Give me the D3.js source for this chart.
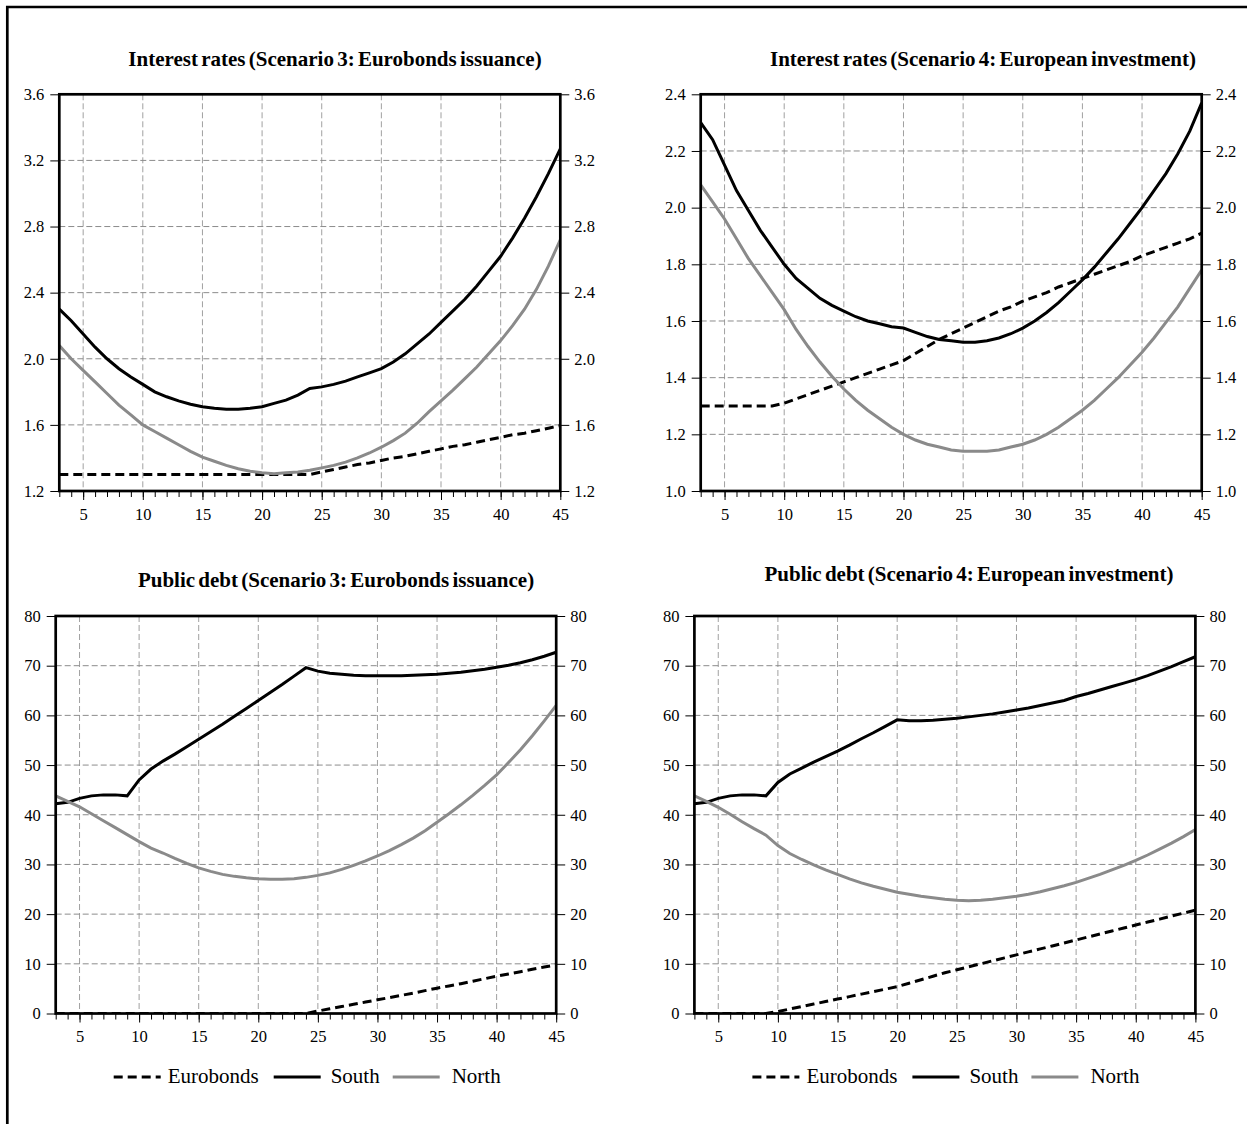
<!DOCTYPE html>
<html>
<head>
<meta charset="utf-8">
<script src="https://cdn.jsdelivr.net/npm/d3@7"></script>
<style>
body { margin: 0; background: #fff; }
svg, svg text { font-family: "Liberation Serif", "Times New Roman", serif; }
</style>
</head>
<body>
<script>
// horizon (periods) on the x axis
var years = [3,4,5,6,7,8,9,10,11,12,13,14,15,16,17,18,19,20,21,22,23,24,25,26,27,28,29,30,31,32,33,34,35,36,37,38,39,40,41,42,43,44,45];
var xTicks = [5,10,15,20,25,30,35,40,45];

// Interest rates, scenario 3
var ir3South = [2.30,2.23,2.15,2.07,2.00,1.94,1.89,1.845,1.80,1.77,1.745,1.725,1.71,1.70,1.695,1.695,1.70,1.71,1.73,1.75,1.78,1.82,1.83,1.845,1.865,1.89,1.915,1.94,1.98,2.03,2.09,2.15,2.22,2.29,2.36,2.44,2.53,2.62,2.73,2.85,2.98,3.12,3.27];
var ir3North = [2.08,2.00,1.93,1.86,1.79,1.72,1.66,1.60,1.56,1.52,1.48,1.44,1.405,1.38,1.355,1.335,1.32,1.31,1.305,1.31,1.315,1.325,1.34,1.355,1.375,1.40,1.43,1.465,1.505,1.55,1.61,1.68,1.745,1.81,1.88,1.95,2.03,2.11,2.20,2.30,2.42,2.56,2.72];
var ir3Euro  = [1.30,1.30,1.30,1.30,1.30,1.30,1.30,1.30,1.30,1.30,1.30,1.30,1.30,1.30,1.30,1.30,1.30,1.30,1.30,1.30,1.30,1.30,1.315,1.33,1.345,1.36,1.37,1.385,1.40,1.41,1.425,1.44,1.455,1.47,1.48,1.495,1.51,1.525,1.54,1.55,1.565,1.58,1.595];

// Interest rates, scenario 4
var ir4South = [2.30,2.24,2.15,2.06,1.99,1.92,1.86,1.80,1.75,1.715,1.68,1.655,1.635,1.615,1.60,1.59,1.58,1.575,1.56,1.545,1.535,1.53,1.525,1.525,1.53,1.54,1.555,1.575,1.60,1.63,1.665,1.705,1.745,1.79,1.84,1.89,1.945,2.00,2.06,2.12,2.19,2.27,2.37];
var ir4North = [2.08,2.02,1.96,1.89,1.82,1.76,1.70,1.64,1.57,1.51,1.455,1.405,1.36,1.32,1.285,1.255,1.225,1.20,1.18,1.165,1.155,1.145,1.14,1.14,1.14,1.145,1.155,1.165,1.18,1.20,1.225,1.255,1.285,1.32,1.36,1.40,1.445,1.49,1.54,1.595,1.65,1.715,1.78];
var ir4Euro  = [1.30,1.30,1.30,1.30,1.30,1.30,1.30,1.31,1.325,1.34,1.355,1.37,1.385,1.40,1.415,1.43,1.445,1.46,1.485,1.51,1.535,1.555,1.575,1.595,1.615,1.635,1.65,1.67,1.685,1.70,1.72,1.735,1.75,1.765,1.78,1.795,1.81,1.83,1.845,1.86,1.875,1.89,1.91];

// Public debt, scenario 3
var debt3South = [42.2,42.5,43.3,43.8,44.0,44.0,43.8,47.0,49.2,50.8,52.2,53.7,55.2,56.7,58.2,59.8,61.4,63.0,64.6,66.2,67.9,69.6,68.9,68.5,68.3,68.1,68.0,68.0,68.0,68.0,68.1,68.2,68.3,68.5,68.7,69.0,69.3,69.7,70.1,70.6,71.2,71.9,72.7];
var debt3North = [43.8,42.7,41.6,40.2,38.8,37.4,36.0,34.6,33.3,32.3,31.2,30.2,29.3,28.6,28.0,27.6,27.3,27.1,27.0,27.0,27.1,27.4,27.8,28.3,29.0,29.8,30.7,31.7,32.8,34.0,35.3,36.8,38.5,40.2,42.0,43.9,45.9,48.0,50.5,53.1,55.9,58.9,62.0];
var debt3Euro  = [0,0,0,0,0,0,0,0,0,0,0,0,0,0,0,0,0,0,0,0,0,0,0.5,0.95,1.4,1.85,2.3,2.75,3.2,3.65,4.1,4.6,5.1,5.55,6.0,6.5,7.0,7.5,7.95,8.4,8.9,9.35,9.8];

// Public debt, scenario 4
var debt4South = [42.2,42.5,43.3,43.8,44.0,44.0,43.8,46.5,48.2,49.4,50.6,51.7,52.8,54.0,55.3,56.5,57.8,59.1,58.9,58.9,59.0,59.2,59.4,59.7,60.0,60.3,60.7,61.1,61.5,62.0,62.5,63.0,63.8,64.4,65.1,65.8,66.5,67.2,68.0,68.9,69.8,70.8,71.8];
var debt4North = [43.8,42.7,41.5,40.1,38.6,37.2,35.9,33.8,32.2,31.0,29.9,28.9,28.0,27.1,26.3,25.6,25.0,24.4,24.0,23.6,23.3,23.0,22.8,22.7,22.8,23.0,23.3,23.6,24.0,24.5,25.1,25.7,26.4,27.2,28.0,28.9,29.8,30.8,31.9,33.1,34.3,35.6,37.0];
var debt4Euro  = [0,0,0,0,0,0,0,0.4,0.9,1.4,1.9,2.4,2.9,3.4,3.9,4.4,4.9,5.4,6.1,6.8,7.5,8.2,8.8,9.4,10.0,10.6,11.2,11.8,12.4,13.0,13.6,14.2,14.8,15.4,16.0,16.6,17.2,17.8,18.4,19.0,19.6,20.2,20.8];

var irTicks3 = [1.2,1.6,2.0,2.4,2.8,3.2,3.6];
var irTicks4 = [1.0,1.2,1.4,1.6,1.8,2.0,2.2,2.4];
var debtTicks = [0,10,20,30,40,50,60,70,80];

var seriesNames = ["Eurobonds", "South", "North"];

var width = 1247, height = 1124;
var svg = d3.select("body").append("svg").attr("width", width).attr("height", height);

// outer frame (only left and top visible)
svg.append("path").attr("d", "M7.3,1124V7H1247").attr("fill", "none").attr("stroke", "#000").attr("stroke-width", 2.7);

var styles = {
    Eurobonds: {stroke: "#000", dash: "9,5"},
    South: {stroke: "#000", dash: null},
    North: {stroke: "#8a8a8a", dash: null}
};

var panels = [
    {title: "Interest rates (Scenario 3: Eurobonds issuance)", tx: 335, ty: 66, left: 59.3, top: 94.3, w: 501, h: 396.7,
     domain: [1.2, 3.6], ticks: irTicks3, fmt: d3.format(".1f"), data: {Eurobonds: ir3Euro, South: ir3South, North: ir3North}},
    {title: "Interest rates (Scenario 4: European investment)", tx: 983, ty: 66, left: 700.7, top: 94.3, w: 501, h: 396.7,
     domain: [1.0, 2.4], ticks: irTicks4, fmt: d3.format(".1f"), data: {Eurobonds: ir4Euro, South: ir4South, North: ir4North}},
    {title: "Public debt (Scenario 3: Eurobonds issuance)", tx: 336, ty: 587, left: 55.7, top: 616, w: 500.5, h: 397.5,
     domain: [0, 80], ticks: debtTicks, fmt: d3.format("d"), data: {Eurobonds: debt3Euro, South: debt3South, North: debt3North}, legend: true},
    {title: "Public debt (Scenario 4: European investment)", tx: 969, ty: 581, left: 694.4, top: 616, w: 501, h: 397.5,
     domain: [0, 80], ticks: debtTicks, fmt: d3.format("d"), data: {Eurobonds: debt4Euro, South: debt4South, North: debt4North}, legend: true}
];

panels.forEach(function(p, i) {
    var x = d3.scaleLinear().domain([3, 45]).range([p.left, p.left + p.w]);
    var y = d3.scaleLinear().domain(p.domain).range([p.top + p.h, p.top]);
    var g = svg.append("g");

    g.append("text").attr("x", p.tx).attr("y", p.ty)
        .attr("text-anchor", "middle").attr("font-weight", "bold").attr("font-size", 21)
        .attr("word-spacing", -2).text(p.title);

    // grid
    g.selectAll(".vg").data(xTicks.filter(function(d){ return d < 45; })).enter().append("line")
        .attr("x1", function(d){ return x(d); }).attr("x2", function(d){ return x(d); })
        .attr("y1", p.top).attr("y2", p.top + p.h)
        .attr("stroke", "#a0a0a0").attr("stroke-width", 1).attr("stroke-dasharray", "6,3");
    g.selectAll(".hg").data(p.ticks.slice(1, -1)).enter().append("line")
        .attr("x1", p.left).attr("x2", p.left + p.w)
        .attr("y1", function(d){ return y(d); }).attr("y2", function(d){ return y(d); })
        .attr("stroke", "#8c8c8c").attr("stroke-width", 1).attr("stroke-dasharray", "6,3");

    // axes
    var axL = g.append("g").attr("transform", "translate(" + p.left + ",0)")
        .call(d3.axisLeft(y).tickValues(p.ticks).tickFormat(p.fmt).tickSize(9).tickPadding(6));
    var axR = g.append("g").attr("transform", "translate(" + (p.left + p.w) + ",0)")
        .call(d3.axisRight(y).tickValues(p.ticks).tickFormat(p.fmt).tickSize(9).tickPadding(5));
    var axMinor = g.append("g").attr("transform", "translate(0," + (p.top + p.h) + ")")
        .call(d3.axisBottom(x).tickValues(years).tickFormat("").tickSize(6));
    var axB = g.append("g").attr("transform", "translate(0," + (p.top + p.h) + ")")
        .call(d3.axisBottom(x).tickValues(xTicks).tickSize(9).tickPadding(8));
    [axL, axR, axMinor, axB].forEach(function(a) {
        a.attr("font-family", null).attr("font-size", null);
        a.select(".domain").remove();
        a.selectAll("line").attr("stroke", "#000").attr("stroke-width", 1);
        a.selectAll("text")
            .style("font-family", "'Liberation Serif', 'Times New Roman', serif")
            .style("font-size", "16.5px").attr("fill", "#000");
    });

    // clip + lines
    svg.append("clipPath").attr("id", "clip" + i).append("rect")
        .attr("x", p.left).attr("y", p.top).attr("width", p.w).attr("height", p.h);
    var line = d3.line().x(function(d, j){ return x(years[j]); }).y(function(d){ return y(d); });
    ["Eurobonds", "South", "North"].forEach(function(name) {
        g.append("path").datum(p.data[name])
            .attr("clip-path", "url(#clip" + i + ")")
            .attr("d", line).attr("fill", "none")
            .attr("stroke", styles[name].stroke).attr("stroke-width", 3)
            .attr("stroke-dasharray", styles[name].dash);
    });

    // frame
    g.append("rect").attr("x", p.left).attr("y", p.top).attr("width", p.w).attr("height", p.h)
        .attr("fill", "none").attr("stroke", "#000").attr("stroke-width", 2.7);

    // legend
    if (p.legend) {
        var ly = 1077;
        var items = [{name: "Eurobonds", x0: 58, x1: 105, tx: 112},
                     {name: "South", x0: 218, x1: 265, tx: 275},
                     {name: "North", x0: 337, x1: 384, tx: 396}];
        items.forEach(function(it) {
            g.append("line").attr("x1", p.left + it.x0).attr("x2", p.left + it.x1)
                .attr("y1", ly).attr("y2", ly)
                .attr("stroke", styles[it.name].stroke).attr("stroke-width", 3)
                .attr("stroke-dasharray", styles[it.name].dash);
            g.append("text").attr("x", p.left + it.tx).attr("y", ly + 6)
                .attr("font-size", 21).text(it.name);
        });
    }
});
</script>
</body>
</html>
